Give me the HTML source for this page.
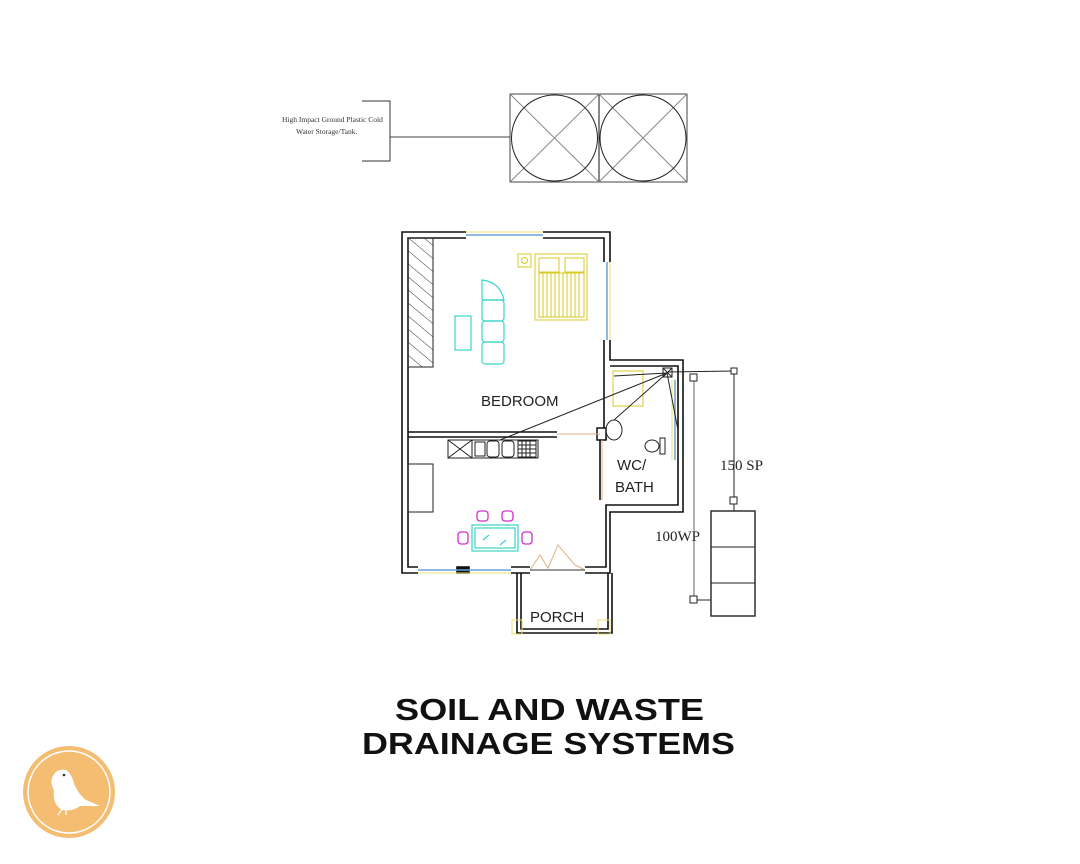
<!DOCTYPE html>
<html><head><meta charset="utf-8"><style>
html,body{margin:0;padding:0;background:#fff;width:1080px;height:864px;overflow:hidden}
svg{display:block}
</style></head><body>
<svg width="1080" height="864" viewBox="0 0 1080 864" xmlns="http://www.w3.org/2000/svg">
<defs>
<pattern id="h" width="10" height="10" patternUnits="userSpaceOnUse" patternTransform="rotate(-50)">
<line x1="0" y1="0" x2="0" y2="10" stroke="#333" stroke-width="1"/>
</pattern>
</defs>
<text x="282" y="122" font-family="Liberation Serif, serif" font-size="7.5" fill="#333">High Impact Ground Plastic Cold</text>
<text x="296" y="134" font-family="Liberation Serif, serif" font-size="7.5" fill="#333">Water Storage/Tank.</text>
<polyline points="362,101 390,101 390,161 362,161" fill="none" stroke="#333" stroke-width="1"/>
<line x1="390" y1="137" x2="510" y2="137" stroke="#444" stroke-width="1"/>
<g fill="none" stroke="#444" stroke-width="1">
<rect x="510" y="94" width="177" height="88"/>
<line x1="599" y1="94" x2="599" y2="182" stroke="#111"/>
<line x1="510" y1="94" x2="599" y2="182" stroke="#888"/><line x1="599" y1="94" x2="510" y2="182" stroke="#888"/>
<line x1="599" y1="94" x2="687" y2="182" stroke="#888"/><line x1="687" y1="94" x2="599" y2="182" stroke="#888"/>
<ellipse cx="554.5" cy="138" rx="43" ry="43" stroke="#222"/>
<ellipse cx="643" cy="138" rx="43" ry="43" stroke="#222"/>
</g>
<g fill="none" stroke="#111" stroke-width="1.6">
<polyline points="466,232 402,232 402,573 418,573"/>
<polyline points="466,238 408,238 408,567 418,567"/>
<polyline points="543,232 610,232 610,262"/>
<polyline points="543,238 604,238 604,262"/>
<polyline points="604,340 604,432"/><polyline points="610,340 610,360 683,360 683,512 610,512 610,573 585,573"/>
<polyline points="610,366 678,366 678,505 606,505 606,567 585,567"/>
<line x1="408" y1="432" x2="557" y2="432"/><line x1="408" y1="437" x2="557" y2="437"/>
<line x1="600" y1="432" x2="600" y2="500"/><line x1="606" y1="437" x2="606" y2="440"/>
<line x1="511" y1="567" x2="530" y2="567"/><line x1="511" y1="573" x2="530" y2="573"/>
<rect x="457" y="567" width="12" height="6" fill="#111"/>
<polyline points="517,573 517,633 612,633 612,573"/>
<polyline points="521,573 521,629 608,629 608,573"/>
</g>
<rect x="597" y="428" width="9" height="12" fill="#fff" stroke="#111" stroke-width="1.5"/>
<g stroke="#6aa0d8" stroke-width="1.5" fill="none">
<line x1="466" y1="235" x2="543" y2="235"/><line x1="607" y1="262" x2="607" y2="340"/>
<line x1="418" y1="570" x2="511" y2="570"/><line x1="675" y1="380" x2="675" y2="460"/>
</g>
<g stroke="#e8e070" stroke-width="1" fill="none">
<line x1="466" y1="232" x2="543" y2="232"/><line x1="610" y1="262" x2="610" y2="340"/><line x1="418" y1="573" x2="511" y2="573"/>
<line x1="672" y1="380" x2="672" y2="460"/>
<rect x="512" y="620" width="10" height="14"/><rect x="598" y="620" width="12" height="14"/>
</g>
<g stroke="#e0b080" stroke-width="1" fill="none">
<line x1="557" y1="434" x2="600" y2="434"/>
<line x1="602" y1="440" x2="602" y2="500"/>
<polyline points="530,570 540,555 548,568 558,545 575,565 585,570"/>
<line x1="530" y1="570" x2="585" y2="570" stroke="#333"/>
</g>
<rect x="408" y="238" width="25" height="129" fill="url(#h)" stroke="#222" stroke-width="1"/>
<g stroke="#3ad4c8" stroke-width="1.2" fill="none">
<rect x="455" y="316" width="16" height="34"/>
<path d="M482,280 Q500,282 504,300 L482,300 Z"/>
<rect x="482" y="300" width="22" height="21" rx="3"/><rect x="482" y="321" width="22" height="21" rx="3"/><rect x="482" y="342" width="22" height="22" rx="3"/>
<rect x="472" y="525" width="46" height="26"/><rect x="475" y="528" width="40" height="20"/>
<line x1="483" y1="540" x2="489" y2="535"/><line x1="500" y1="545" x2="506" y2="540"/>
</g>
<g stroke="#d8c820" stroke-width="1" fill="none">
<rect x="535" y="254" width="52" height="66"/>
<rect x="539" y="258" width="20" height="14"/><rect x="565" y="258" width="19" height="14"/>
<path d="M539,273 h45 v44 h-45 Z M543,273 v44 M547,273 v44 M551,273 v44 M555,273 v44 M559,273 v44 M563,273 v44 M567,273 v44 M571,273 v44 M575,273 v44 M579,273 v44"/>
<rect x="518" y="254" width="13" height="13"/><circle cx="524.5" cy="260.5" r="3"/>
<rect x="613" y="371" width="30" height="35"/>
</g>
<g stroke="#222" stroke-width="1" fill="none">
<rect x="448" y="440" width="90" height="18"/>
<line x1="448" y1="440" x2="472" y2="458"/><line x1="472" y1="440" x2="448" y2="458"/><line x1="472" y1="440" x2="472" y2="458"/>
<rect x="475" y="442" width="10" height="14"/>
<rect x="487" y="441" width="12" height="16" rx="3"/><rect x="502" y="441" width="12" height="16" rx="3"/>
<path d="M518,441 h18 v16 h-18 Z M522,441 v16 M526,441 v16 M530,441 v16 M518,445 h18 M518,449 h18 M518,453 h18"/>
<rect x="408" y="464" width="25" height="48"/>
<ellipse cx="614" cy="430" rx="8" ry="10"/>
<ellipse cx="652" cy="446" rx="7" ry="6"/><rect x="660" y="438" width="5" height="16"/>
<rect x="663" y="368" width="9" height="9"/>
<line x1="663" y1="368" x2="672" y2="377"/><line x1="672" y1="368" x2="663" y2="377"/>
<line x1="667" y1="373" x2="500" y2="440"/>
<line x1="667" y1="373" x2="614" y2="420"/>
<line x1="667" y1="373" x2="614" y2="376"/>
<line x1="667" y1="373" x2="678" y2="430"/>
<line x1="667" y1="372" x2="734" y2="371"/>
<line x1="734" y1="371" x2="734" y2="500"/>
<line x1="694" y1="378" x2="694" y2="600" stroke="#666"/>
<line x1="694" y1="600" x2="711" y2="600"/>
<rect x="731" y="368" width="6" height="6" fill="#fff"/>
<rect x="690" y="374" width="7" height="7" fill="#fff"/>
<rect x="730" y="497" width="7" height="7" fill="#fff"/>
<rect x="690" y="596" width="7" height="7" fill="#fff"/>
<rect x="711" y="511" width="44" height="105" stroke-width="1.4"/>
<line x1="711" y1="547" x2="755" y2="547"/><line x1="711" y1="583" x2="755" y2="583"/>
<line x1="734" y1="504" x2="734" y2="511"/>
</g>
<g stroke="#d030d0" stroke-width="1.3" fill="none">
<rect x="477" y="511" width="11" height="10" rx="3"/><rect x="502" y="511" width="11" height="10" rx="3"/>
<rect x="458" y="532" width="10" height="12" rx="3"/><rect x="522" y="532" width="10" height="12" rx="3"/>
</g>
<g font-family="Liberation Sans, sans-serif" fill="#222">
<text x="481" y="406" font-size="15">BEDROOM</text>
<text x="617" y="470" font-size="15">WC/</text>
<text x="615" y="492" font-size="15">BATH</text>
<text x="530" y="622" font-size="15">PORCH</text>
</g>
<g font-family="Liberation Serif, serif" fill="#222" font-size="15">
<text x="720" y="470">150 SP</text>
<text x="655" y="541">100WP</text>
</g>
<g font-family="Liberation Sans, sans-serif" font-weight="bold" fill="#111" font-size="31">
<text x="395" y="720" textLength="309" lengthAdjust="spacingAndGlyphs">SOIL AND WASTE</text>
<text x="362" y="754" textLength="373" lengthAdjust="spacingAndGlyphs">DRAINAGE SYSTEMS</text>
</g>
<circle cx="69" cy="792" r="46" fill="#f4bd72"/>
<circle cx="69" cy="792" r="41" fill="none" stroke="#fff" stroke-width="1.5"/>
<path d="M52,778 Q56,768 66,770 Q72,774 74,784 Q80,796 86,800 L100,806 L86,806 L80,806 Q72,812 62,810 Q52,804 54,790 Q50,784 52,778 Z" fill="#fff"/>
<circle cx="64" cy="775" r="1.3" fill="#333"/>
<path d="M62,809 L58,815 M66,810 L66,815" stroke="#fff" stroke-width="1.2"/>
</svg>
</body></html>
